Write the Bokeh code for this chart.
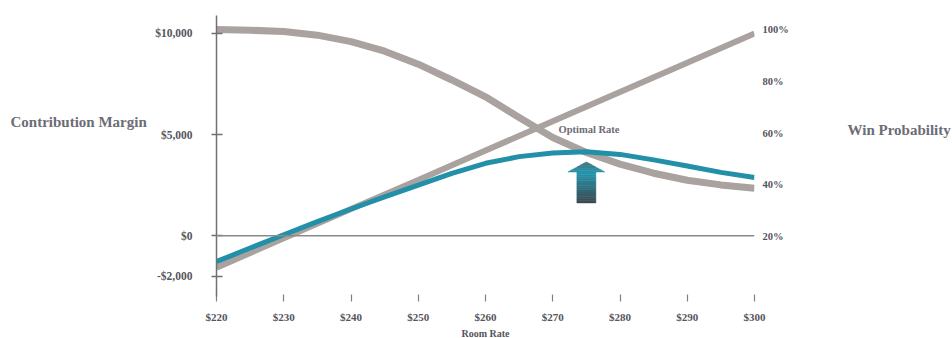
import numpy as np
from bokeh.plotting import figure
from bokeh.models import Range1d, LinearAxis, FixedTicker, Span, Label, Title
from bokeh.embed import file_html
from bokeh.resources import INLINE

# ---- data -------------------------------------------------------------
room_rate = [220, 225, 230, 235, 240, 245, 250, 255, 260,
             265, 270, 275, 280, 285, 290, 295, 300]
win_probability = [100.0, 99.7, 99.2, 97.8, 95.3, 91.6, 86.6, 80.5, 74.0,
                   66.0, 58.3, 52.5, 48.0, 44.5, 41.8, 40.0, 38.7]
expected_contribution = [-1280, -610, 50, 700, 1320, 1920, 2500, 3080, 3580,
                         3910, 4090, 4150, 4020, 3750, 3450, 3130, 2880]

margin_rate = [220, 230, 240, 250, 260, 270, 280, 290, 300]
contribution_margin = [-1580, -130, 1320, 2760, 4210, 5660, 7110, 8550, 10000]

rate_ticks = [220, 230, 240, 250, 260, 270, 280, 290, 300]
usd_ticks = [-2000, 0, 5000, 10000]
usd_tick_labels = ["-$2,000", "$0", "$5,000", "$10,000"]
pct_ticks = [20, 40, 60, 80, 100]

# ---- layout -----------------------------------------------------------
W, H = 952, 338
FRAME_L, FRAME_R, FRAME_T, FRAME_B = 216, 754, 15, 297
ZERO_PX, TEN_K_PX = 236, 33          # pixel rows of $0 and $10,000
P20_PX, P100_PX = 237, 29            # pixel rows of 20% and 100%

usd_per_px = 10000 / (ZERO_PX - TEN_K_PX)
usd_top = (ZERO_PX - FRAME_T) * usd_per_px
usd_bot = -(FRAME_B - ZERO_PX) * usd_per_px

pct_per_px = 80 / (P20_PX - P100_PX)
pct_top = 20 + (P20_PX - FRAME_T) * pct_per_px
pct_bot = 20 - (FRAME_B - P20_PX) * pct_per_px

x0, x1 = rate_ticks[0], rate_ticks[-1]
rate_per_px = (x1 - x0) / (FRAME_R - FRAME_L)


def px_to_rate(px):
    return x0 + (px - FRAME_L) * rate_per_px


def py_to_usd(py):
    return (ZERO_PX - py) * usd_per_px


SERIF = "Liberation Serif"
GRAY_LINE = "#a9a29f"
TEAL = "#2190a8"
TICK_TEXT = "#55555c"
TITLE_TEXT = "#6c6c76"

p = figure(width=W, height=H,
           x_range=Range1d(x0, x1), y_range=Range1d(usd_bot, usd_top),
           output_backend="svg", toolbar_location=None,
           min_border_left=FRAME_L, min_border_right=W - FRAME_R,
           min_border_top=FRAME_T, min_border_bottom=H - FRAME_B)
p.extra_y_ranges = {"prob": Range1d(pct_bot, pct_top)}
p.outline_line_color = None
p.grid.visible = False
p.background_fill_color = "white"
p.border_fill_color = "white"

# left axis: contribution margin
ya = p.yaxis[0]
ya.ticker = FixedTicker(ticks=usd_ticks)
ya.major_label_overrides = dict(zip(usd_ticks, usd_tick_labels))
ya.axis_line_color = "#707070"
ya.axis_line_width = 1.5
ya.major_tick_line_color = "#707070"
ya.major_tick_line_width = 1.5
ya.major_tick_in = 6
ya.major_tick_out = 5
ya.minor_tick_line_color = None
ya.major_label_standoff = 19
ya.major_label_text_font = SERIF
ya.major_label_text_font_style = "bold"
ya.major_label_text_font_size = "11.5px"
ya.major_label_text_color = TICK_TEXT

# bottom axis: room rate
xa = p.xaxis[0]
xa.ticker = FixedTicker(ticks=rate_ticks)
xa.major_label_overrides = {t: f"${t}" for t in rate_ticks}
xa.axis_line_color = None
xa.major_tick_line_color = "#808080"
xa.major_tick_line_width = 1.2
xa.major_tick_in = 2
xa.major_tick_out = 5
xa.minor_tick_line_color = None
xa.major_label_standoff = 9
xa.major_label_text_font = SERIF
xa.major_label_text_font_style = "bold"
xa.major_label_text_font_size = "11px"
xa.major_label_text_color = TICK_TEXT

# right axis: win probability
ra = LinearAxis(y_range_name="prob", ticker=FixedTicker(ticks=pct_ticks))
ra.major_label_overrides = {t: f"{t}%" for t in pct_ticks}
ra.axis_line_color = None
ra.major_tick_line_color = None
ra.major_tick_in = 0
ra.major_tick_out = 0
ra.minor_tick_line_color = None
ra.major_label_standoff = 8
ra.major_label_text_font = SERIF
ra.major_label_text_font_style = "bold"
ra.major_label_text_font_size = "10.5px"
ra.major_label_text_color = TICK_TEXT
p.add_layout(ra, "right")

# $0 reference line
p.add_layout(Span(location=0, dimension="width",
                  line_color="#8a8a8a", line_width=1.5))

# curves
p.line(margin_rate, contribution_margin, line_color=GRAY_LINE, line_width=6)
p.line(room_rate, win_probability, y_range_name="prob",
       line_color=GRAY_LINE, line_width=7, line_join="round")
p.line(room_rate, expected_contribution, line_color=TEAL, line_width=5,
       line_join="round")

# arrow under the best expected contribution
optimal_rate = room_rate[int(np.argmax(expected_contribution))]
tip, head_base, base = 3650, 3150, 1620
head_half, shaft_half = 2.75, 1.41


def blend(c1, c2, t):
    a = [int(c1[i:i + 2], 16) for i in (1, 3, 5)]
    b = [int(c2[i:i + 2], 16) for i in (1, 3, 5)]
    return "#" + "".join(f"{round(u + (v - u) * t):02x}" for u, v in zip(a, b))


# head, shaded from the tip down
n_head = 6
for i in range(n_head):
    y_a = tip - (tip - head_base) * i / n_head
    y_b = tip - (tip - head_base) * (i + 1) / n_head
    w0 = head_half * i / n_head
    w1 = head_half * (i + 1) / n_head
    col = blend("#436d79", "#2695ab", (i + 0.5) / n_head)
    p.patch([optimal_rate - w0, optimal_rate + w0, optimal_rate + w1, optimal_rate - w1],
            [y_a, y_a, y_b, y_b], fill_color=col, line_color=col, line_width=0.5)

# shaft, shaded from teal to slate
n_shaft = 14
for i in range(n_shaft):
    y_a = head_base - (head_base - base) * i / n_shaft
    y_b = head_base - (head_base - base) * (i + 1) / n_shaft
    col = blend("#2399b0", "#3c4750", (i + 0.5) / n_shaft)
    p.quad(left=optimal_rate - shaft_half, right=optimal_rate + shaft_half,
           top=y_a, bottom=y_b, fill_color=col, line_color=col, line_width=0.5)

# texts
p.add_layout(Label(x=px_to_rate(558), y=py_to_usd(129), text="Optimal Rate",
                   text_font=SERIF, text_font_style="bold", text_font_size="10.5px",
                   text_color=TITLE_TEXT, text_align="left", text_baseline="middle"))
p.add_layout(Label(x=10, y=121, x_units="canvas", y_units="canvas",
                   text="Contribution Margin",
                   text_font=SERIF, text_font_style="bold", text_font_size="15px",
                   text_color=TITLE_TEXT, text_align="left", text_baseline="middle"),
             "left")
p.add_layout(Label(x=847, y=129, x_units="canvas", y_units="canvas",
                   text="Win Probability",
                   text_font=SERIF, text_font_style="bold", text_font_size="15px",
                   text_color=TITLE_TEXT, text_align="left", text_baseline="middle"),
             "right")
p.add_layout(Title(text="Room Rate", align="center", text_font=SERIF,
                   text_font_style="bold", text_font_size="10px",
                   text_color=TICK_TEXT, standoff=0), "below")

open("out.html", "w").write(file_html(p, INLINE))
